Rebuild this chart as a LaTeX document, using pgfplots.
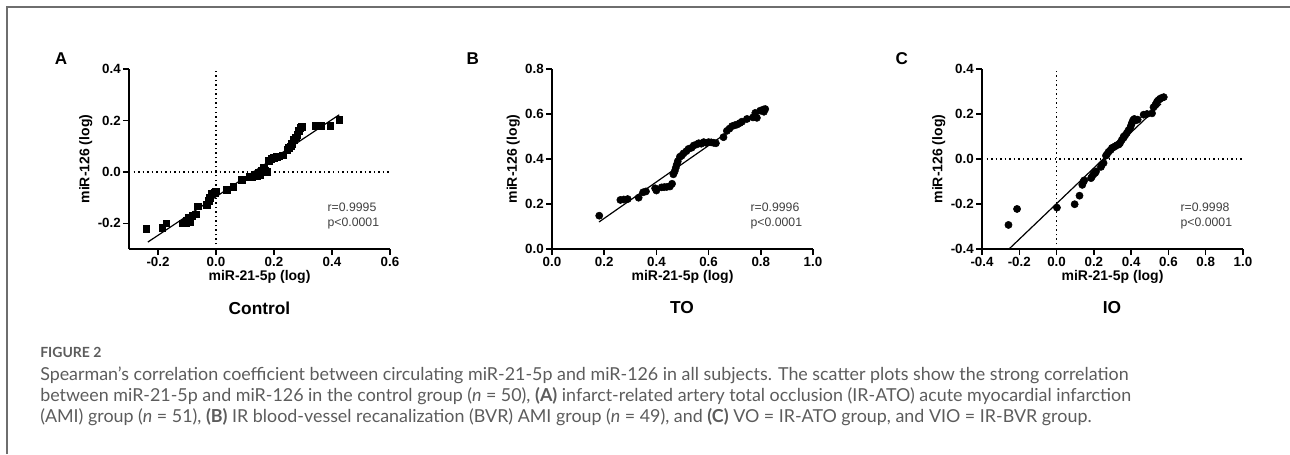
\documentclass[border=0pt]{standalone}
\usepackage{fontspec}
\setmainfont{Liberation Sans}
\newfontfamily\capfont{Lato}
\usepackage{pgfplots}
\pgfplotsset{compat=1.18}
\definecolor{framegray}{HTML}{6E6E6E}
\definecolor{capgray}{HTML}{5C5C5C}
\definecolor{stattext}{HTML}{404040}

\newcommand\tickfont{\fontsize{10}{12}\selectfont\bfseries}
\newcommand\labfont{\fontsize{10.5}{12.5}\selectfont\bfseries}

% GraphPad-like look; 1 px of the reference = 0.75pt
\pgfplotsset{
  gpad/.style={
    scale only axis, width=195.75pt, height=135pt,
    anchor=south west, clip=false,
    axis x line*=bottom, axis y line*=left,
    axis line style={-, line width=1.1pt},
    tick style={black, line width=1.1pt},
    tick align=outside, major tick length=4.5pt,
    xticklabel style={font=\tickfont, inner sep=1.5pt},
    yticklabel style={font=\tickfont, inner sep=1.5pt},
    xlabel={miR-21-5p (log)}, ylabel={miR-126 (log)},
    xlabel style={font=\labfont, yshift=2pt},
    ylabel style={font=\labfont, yshift=-1pt},
  },
  fitline/.style={black, line width=0.9pt, no marks},
  zeroline/.style={black, line width=1.1pt, dash pattern=on 1.1pt off 2.3pt, no marks},
}
\tikzset{stats/.style={anchor=north west, align=left, inner sep=0pt,
    font=\fontsize{9.2}{11.25}\selectfont, text=stattext}}

\begin{document}
\begin{tikzpicture}
\path[use as bounding box] (0pt,0pt) rectangle (967.5pt,-340.5pt);
\draw[framegray, line width=1.1pt] (5.25pt,-340.5pt) -- (5.25pt,-5.25pt) -- (967.5pt,-5.25pt);

% ---- A: Control
\begin{axis}[gpad, at={(96.75pt,-186.75pt)},
    xmin=-0.3, xmax=0.6, ymin=-0.3, ymax=0.4,
    xtick={-0.2,0,0.2,0.4,0.6}, xticklabels={-0.2,0.0,0.2,0.4,0.6},
    ytick={-0.2,0,0.2,0.4}, yticklabels={-0.2,0.0,0.2,0.4}]
\addplot[zeroline] coordinates {(-0.3,0) (0.6,0)};
\addplot[zeroline] coordinates {(0,-0.3) (0,0.4)};
\addplot[only marks, mark=square*, mark size=2.5pt, black] coordinates {
  (-0.240,-0.222) (-0.185,-0.218) (-0.171,-0.200) (-0.115,-0.200) (-0.105,-0.198)
  (-0.100,-0.190) (-0.095,-0.178) (-0.082,-0.170) (-0.070,-0.165) (-0.062,-0.134)
  (-0.032,-0.128) (-0.025,-0.112) (-0.021,-0.100) (-0.015,-0.083) (-0.004,-0.080)
  (0.000,-0.075) (0.037,-0.070) (0.060,-0.057) (0.089,-0.030) (0.117,-0.018)
  (0.125,-0.020) (0.134,-0.010) (0.140,-0.015) (0.146,-0.004) (0.152,-0.010)
  (0.158,0.003) (0.164,0.016) (0.170,0.005) (0.175,0.000) (0.181,0.042)
  (0.190,0.050) (0.199,0.055) (0.210,0.060) (0.217,0.061) (0.230,0.065)
  (0.246,0.087) (0.250,0.095) (0.257,0.100) (0.262,0.110) (0.269,0.126)
  (0.275,0.135) (0.280,0.145) (0.285,0.160) (0.290,0.171) (0.295,0.175)
  (0.345,0.180) (0.362,0.180) (0.394,0.180) (0.425,0.203) (-0.090,-0.195)
};
\addplot[fitline] coordinates {(-0.235,-0.273) (0.425,0.222)};
\node[stats] at (rel axis cs:0.76,0.26) {r=0.9995\\p<0.0001};
\end{axis}

% ---- B: TO
\begin{axis}[gpad, at={(414pt,-186.75pt)},
    xmin=0, xmax=1, ymin=0, ymax=0.8,
    xtick={0,0.2,0.4,0.6,0.8,1}, xticklabels={0.0,0.2,0.4,0.6,0.8,1.0},
    ytick={0,0.2,0.4,0.6,0.8}, yticklabels={0.0,0.2,0.4,0.6,0.8}]
\addplot[only marks, mark=*, mark size=2.7pt, black] coordinates {
  (0.181,0.148) (0.262,0.218) (0.275,0.220) (0.290,0.222) (0.332,0.228)
  (0.349,0.252) (0.360,0.256) (0.395,0.270) (0.400,0.260) (0.420,0.274)
  (0.430,0.275) (0.440,0.276) (0.452,0.278) (0.460,0.290) (0.465,0.332)
  (0.470,0.345) (0.474,0.360) (0.478,0.375) (0.482,0.390) (0.490,0.410)
  (0.497,0.415) (0.504,0.425) (0.515,0.435) (0.523,0.445) (0.535,0.450)
  (0.543,0.460) (0.555,0.465) (0.562,0.470) (0.572,0.468) (0.581,0.475)
  (0.590,0.472) (0.600,0.475) (0.610,0.474) (0.619,0.472) (0.628,0.470)
  (0.657,0.497) (0.670,0.525) (0.680,0.535) (0.690,0.546) (0.700,0.550)
  (0.709,0.553) (0.720,0.560) (0.728,0.566) (0.747,0.578) (0.770,0.585)
  (0.779,0.605) (0.785,0.583) (0.798,0.615) (0.810,0.620) (0.817,0.622)
  (0.812,0.610)
};
\addplot[fitline] coordinates {(0.180,0.120) (0.815,0.634)};
\node[stats] at (rel axis cs:0.76,0.26) {r=0.9996\\p<0.0001};
\end{axis}

% ---- C: IO
\begin{axis}[gpad, at={(736.5pt,-186.75pt)},
    xmin=-0.4, xmax=1, ymin=-0.4, ymax=0.4,
    xtick={-0.4,-0.2,0,0.2,0.4,0.6,0.8,1}, xticklabels={-0.4,-0.2,0.0,0.2,0.4,0.6,0.8,1.0},
    ytick={-0.4,-0.2,0,0.2,0.4}, yticklabels={-0.4,-0.2,0.0,0.2,0.4}]
\addplot[zeroline] coordinates {(-0.4,0) (1,0)};
\addplot[zeroline] coordinates {(0,-0.4) (0,0.4)};
\addplot[only marks, mark=*, mark size=2.7pt, black] coordinates {
  (-0.258,-0.293) (-0.212,-0.222) (0.002,-0.216) (0.097,-0.201) (0.123,-0.163)
  (0.138,-0.115) (0.145,-0.100) (0.148,-0.095) (0.185,-0.085) (0.190,-0.078)
  (0.198,-0.068) (0.207,-0.062) (0.212,-0.055) (0.238,-0.035) (0.243,-0.025)
  (0.252,-0.018) (0.265,0.015) (0.270,0.020) (0.279,0.032) (0.290,0.040)
  (0.297,0.049) (0.305,0.052) (0.315,0.057) (0.325,0.062) (0.335,0.065)
  (0.341,0.072) (0.350,0.085) (0.359,0.094) (0.360,0.100) (0.368,0.105)
  (0.377,0.116) (0.386,0.128) (0.395,0.138) (0.400,0.150) (0.404,0.160)
  (0.410,0.172) (0.417,0.178) (0.425,0.172) (0.435,0.175) (0.467,0.197)
  (0.485,0.200) (0.512,0.203) (0.520,0.230) (0.530,0.241) (0.539,0.255)
  (0.547,0.262) (0.555,0.268) (0.565,0.272) (0.575,0.275)
};
\addplot[fitline] coordinates {(-0.255,-0.400) (0.560,0.245)};
\node[stats] at (rel axis cs:0.76,0.26) {r=0.9998\\p<0.0001};
\end{axis}

% panel letters and group titles
\node[font=\fontsize{12.8}{15}\selectfont\bfseries] at (45.75pt,-44.25pt) {A};
\node[font=\fontsize{12.8}{15}\selectfont\bfseries] at (354.5pt,-44.25pt) {B};
\node[font=\fontsize{12.8}{15}\selectfont\bfseries] at (676.25pt,-44.25pt) {C};
\node[font=\fontsize{13}{15}\selectfont\bfseries] at (194.6pt,-231pt) {Control};
\node[font=\fontsize{13}{15}\selectfont\bfseries] at (511.5pt,-231pt) {TO};
\node[font=\fontsize{13}{15}\selectfont\bfseries] at (834pt,-231pt) {IO};

% figure caption
\begin{scope}[every node/.style={anchor=base west, inner sep=0pt, text=capgray,
    font=\capfont\fontsize{13.4}{16}\selectfont}]
\node[font=\capfont\fontsize{10.5}{12}\selectfont\bfseries] at (30pt,-267.75pt) {FIGURE 2};
\node at (30pt,-285pt) {Spearman’s correlation coefficient between circulating miR-21-5p and miR-126 in all subjects. The scatter plots show the strong correlation};
\node at (30pt,-300.75pt) {between miR-21-5p and miR-126 in the control group (\textit{n} = 50), \textbf{(A)} infarct-related artery total occlusion (IR-ATO) acute myocardial infarction};
\node at (30pt,-316.5pt) {(AMI) group (\textit{n} = 51), \textbf{(B)} IR blood-vessel recanalization (BVR) AMI group (\textit{n} = 49), and \textbf{(C)} VO = IR-ATO group, and VIO = IR-BVR group.};
\end{scope}
\end{tikzpicture}
\end{document}
